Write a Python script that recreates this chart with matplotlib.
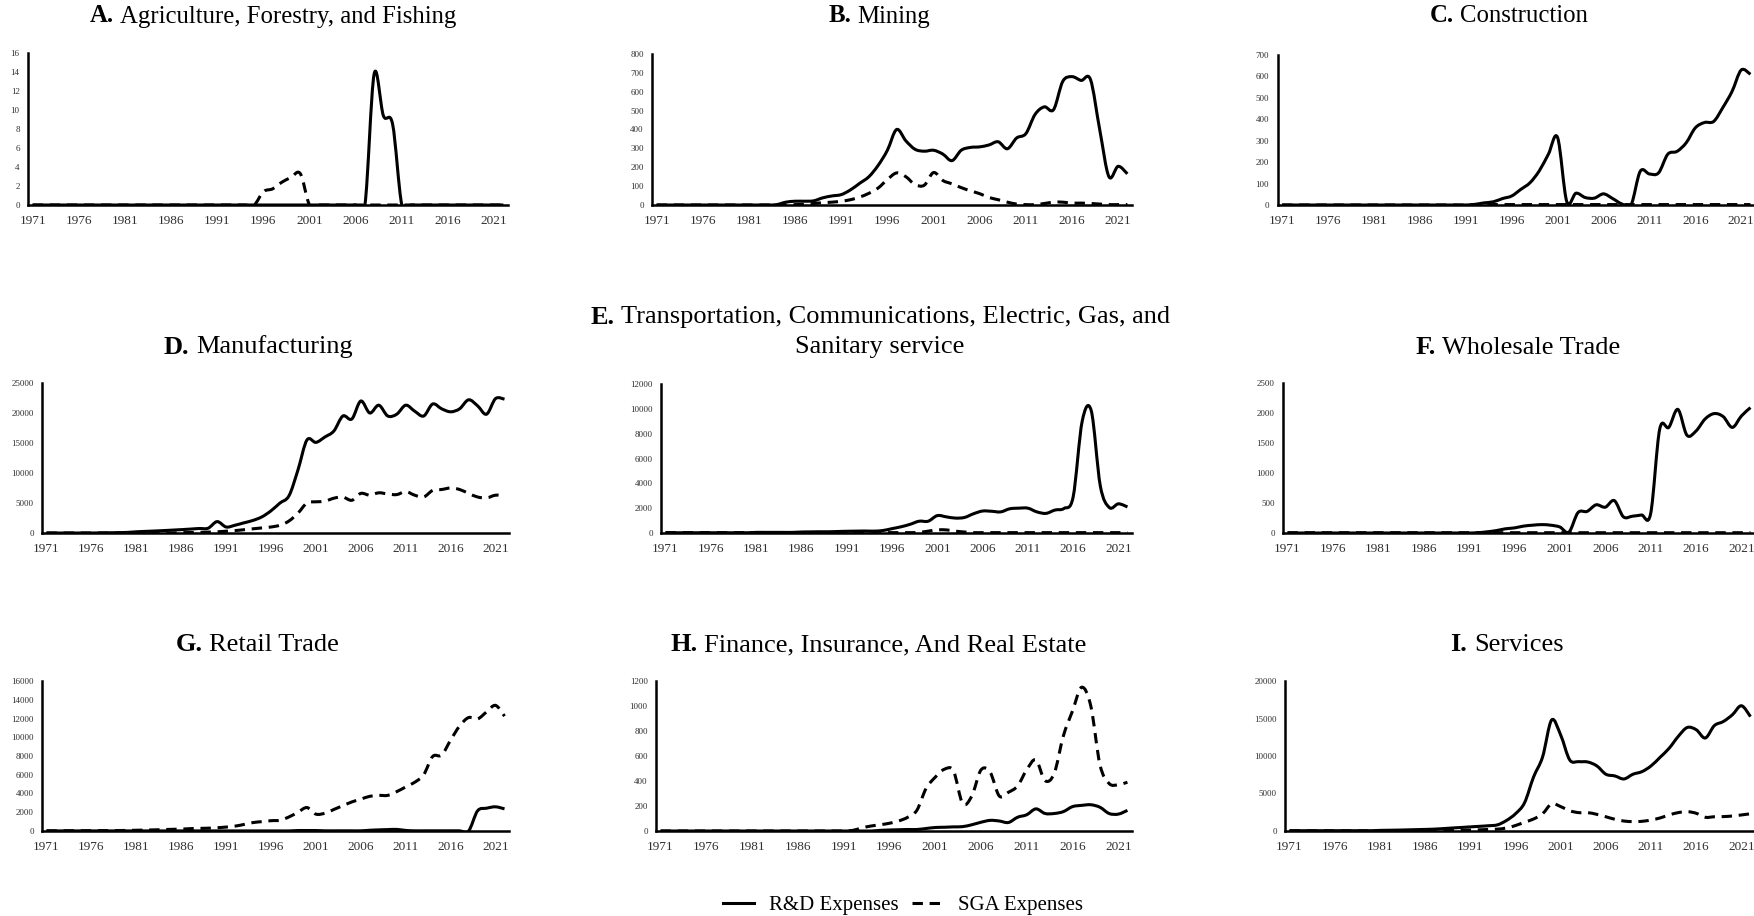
import numpy as np
import matplotlib
matplotlib.use("Agg")
import matplotlib.pyplot as plt
from matplotlib.path import Path
from matplotlib.patches import PathPatch
from matplotlib.lines import Line2D

plt.rcParams['font.family'] = ['Liberation Serif', 'DejaVu Serif']

W, H = 1754, 916
years = np.arange(1971, 2023)
xtick_years = list(range(1971, 2022, 5))

# ---- data (1971 .. 2022) ----
agri_rd = [0]*37 + [13.8, 9.4, 8.5] + [0]*12
agri_sga = [0]*25 + [1.4, 1.7, 2.4, 2.9, 3.3] + [0]*22

mining_rd = [0]*13 + [2, 15, 20, 20, 22, 38, 48, 55, 80, 115, 150, 210, 290, 400,
                      340, 295, 285, 290, 270, 235, 290, 305, 308, 318, 335, 298, 355,
                      378, 480, 520, 505, 655, 680, 660, 665, 400, 150, 205, 165]
mining_sga = [0]*15 + [2, 4, 8, 12, 15, 20, 28, 42, 62, 90, 135, 170, 150, 108, 105,
                       172, 130, 112, 92, 75, 60, 40, 28, 15, 5, 2, 2, 8, 15, 15, 10,
                       10, 8, 5, 2, 2, 2]

constr_rd = [0]*21 + [3, 10, 15, 30, 42, 73, 104, 159, 237, 315, 16, 55, 35, 32, 52,
                      30, 5, 0, 157, 145, 150, 237, 250, 290, 360, 385, 390, 455, 530,
                      630, 610]
constr_sga = [0]*21 + [2]*31

manuf_rd = [0]*6 + [20, 40, 60, 100, 200, 270, 330, 400, 480, 560, 650, 750, 800,
                    1900, 1000, 1300, 1700, 2100, 2700, 3700, 5000, 6200, 10500, 15500,
                    15100, 16000, 17000, 19500, 19000, 22000, 20000, 21300, 19500,
                    19800, 21300, 20300, 19500, 21500, 20700, 20200, 20700, 22200,
                    21200, 19800, 22400, 22300]
manuf_sga = [0]*15 + [50, 80, 100, 150, 200, 300, 400, 550, 700, 850, 1000, 1300,
                      2000, 3300, 5000, 5200, 5300, 5800, 6000, 5450, 6600, 6300, 6700,
                      6500, 6400, 6900, 6300, 6000, 7100, 7250, 7500, 7250, 6600, 6000,
                      5850, 6300, 6200]

trans_rd = [20]*10 + [50]*5 + [80, 90, 100, 100, 120, 140, 150, 160, 150, 200, 350,
                               500, 700, 950, 950, 1400, 1300, 1200, 1250, 1550, 1770,
                               1750, 1700, 1950, 2000, 2000, 1700, 1580, 1850, 1980,
                               2900, 9000, 9850, 3800, 2050, 2350, 2100]
trans_sga = [30]*28 + [50, 150, 250, 250, 150, 80] + [30]*18

whole_rd = [0]*21 + [5, 20, 40, 70, 85, 115, 130, 140, 130, 100, 15, 340, 360, 470,
                     430, 540, 270, 280, 300, 320, 1730, 1760, 2060, 1630, 1700, 1900,
                     1990, 1940, 1760, 1950, 2090]
whole_sga = [5]*52

retail_rd = [10]*28 + [50, 50, 50] + [20]*5 + [80, 120, 150, 170, 60] + [20]*6 + \
            [0, 2150, 2430, 2580, 2360]
retail_sga = [20, 20, 25, 30, 30, 35, 40, 45, 50, 60, 80, 100, 120, 150, 180, 200,
              250, 280, 300, 350, 420, 520, 700, 900, 1000, 1100, 1150, 1500, 2000,
              2500, 1800, 1900, 2300, 2700, 3100, 3400, 3700, 3800, 3800, 4200, 4700,
              5200, 6000, 7950, 8100, 9700, 11200, 12100, 11950, 12700, 13400, 12250]

fin_rd = [0]*24 + [5, 8, 10, 12, 12, 20, 28, 30, 33, 35, 50, 70, 85, 80, 68, 110,
                   130, 177, 140, 140, 155, 195, 205, 210, 190, 140, 135, 165]
fin_sga = [0]*21 + [5, 25, 40, 50, 62, 80, 110, 166, 340, 430, 494, 480, 220, 280,
                    488, 470, 280, 310, 360, 490, 569, 403, 460, 760, 960, 1150, 1000,
                    530, 380, 370, 390]

serv_rd = [40]*10 + [80, 100, 120, 150, 180, 210, 250, 320, 400, 470, 550, 620, 700,
                     820, 1400, 2300, 3760, 7200, 9880, 14800, 12800, 9480, 9250, 9200,
                     8680, 7570, 7340, 6940, 7570, 7920, 8680, 9830, 11030, 12600, 13800,
                     13500, 12400, 14050, 14600, 15500, 16700, 15250]
serv_sga = [20]*16 + [40, 60, 80, 100, 120, 160, 200, 250, 400, 730, 1170, 1600,
                      2300, 3630, 3250, 2700, 2450, 2450, 2220, 1900, 1560, 1330, 1250,
                      1290, 1470, 1740, 2140, 2450, 2580, 2360, 1830, 1900, 1920, 2000,
                      2140, 2300]

letters = ["A.", "B.", "C.", "D.", "E.", "F.", "G.", "H.", "I."]
titles = ["Agriculture, Forestry, and Fishing", "Mining", "Construction",
          "Manufacturing",
          "Transportation, Communications, Electric, Gas, and\nSanitary service",
          "Wholesale Trade", "Retail Trade", "Finance, Insurance, And Real Estate",
          "Services"]
rd_series = [agri_rd, mining_rd, constr_rd, manuf_rd, trans_rd, whole_rd,
             retail_rd, fin_rd, serv_rd]
sga_series = [agri_sga, mining_sga, constr_sga, manuf_sga, trans_sga, whole_sga,
              retail_sga, fin_sga, serv_sga]
y_max = [16, 800, 700, 25000, 12000, 2500, 16000, 1200, 20000]
y_step = [2, 100, 100, 5000, 2000, 500, 2000, 200, 5000]

# plot-area boxes in pixels: left, top, right, bottom
boxes = [(28, 53, 508, 205), (652, 54, 1132, 205), (1277.5, 55, 1755, 205),
         (42, 383, 509, 533), (661, 384, 1132, 533), (1283, 383, 1755, 533),
         (42, 681, 509, 831), (656, 681, 1132, 831), (1285, 681, 1755, 831)]
# title anchor: centre x, baseline y (pixels), font size
title_pos = [(273, 22.5, 17.8), (879, 22.5, 17.8), (1509, 22.5, 17.8),
             (258, 353.5, 19), (880, 323.5, 19), (1518, 353.5, 19),
             (257, 651, 19), (878.5, 651, 19), (1507, 651, 19)]

fig = plt.figure(figsize=(W / 100, H / 100), dpi=100)

LW = 2.2
DASH = (0, (3.4, 2.2))


def smooth_path(x, y):
    pts = np.column_stack([x, y]).astype(float)
    n = len(pts)
    verts = [pts[0]]
    codes = [Path.MOVETO]
    for i in range(n - 1):
        p0 = pts[i - 1] if i > 0 else pts[i]
        p1, p2 = pts[i], pts[i + 1]
        p3 = pts[i + 2] if i + 2 < n else pts[i + 1]
        verts += [p1 + (p2 - p0) / 6.0, p2 - (p3 - p1) / 6.0, p2]
        codes += [Path.CURVE4] * 3
    return Path(verts, codes)


def fx(x):
    return x / W


def fy(y):
    return 1 - y / H


renderer = fig.canvas.get_renderer()


def draw_title(xc, base, size, bold, rest):
    lines = rest.split("\n")
    for k, line in enumerate(lines):
        yb = base + k * 30
        if k == 0:
            t1 = fig.text(0, fy(yb), bold, fontsize=size, fontweight='bold',
                          ha='left', va='baseline')
            t2 = fig.text(0, fy(yb), line, fontsize=size, ha='left', va='baseline')
            w1 = t1.get_window_extent(renderer).width
            w2 = t2.get_window_extent(renderer).width
            gap = 0.25 * size * 100 / 72
            left = xc - (w1 + gap + w2) / 2
            t1.set_x(fx(left))
            t2.set_x(fx(left + w1 + gap))
        else:
            fig.text(fx(xc), fy(yb), line, fontsize=size, ha='center', va='baseline')


for k in range(9):
    l, t, r, b = boxes[k]
    ax = fig.add_axes([fx(l), fy(b), (r - l) / W, (b - t) / H])
    ax.patch.set_visible(False)
    # category axis: each year sits in the middle of its own band
    ax.set_xlim(years[0] - 0.5, years[-1] + 0.5)
    ax.set_ylim(0, y_max[k])
    ax.add_patch(PathPatch(smooth_path(years, sga_series[k]), fill=False,
                           edgecolor='black', lw=LW, linestyle=DASH,
                           capstyle='butt', joinstyle='round'))
    ax.add_patch(PathPatch(smooth_path(years, rd_series[k]), fill=False,
                           edgecolor='black', lw=LW, capstyle='butt',
                           joinstyle='round'))
    for s in ['top', 'right']:
        ax.spines[s].set_visible(False)
    for s in ['left', 'bottom']:
        ax.spines[s].set_linewidth(1.8)
        ax.spines[s].set_color('black')
    ax.set_xticks(xtick_years)
    ax.set_xticklabels([str(v) for v in xtick_years])
    ax.set_yticks(np.arange(0, y_max[k] + 1, y_step[k]))
    ax.tick_params(axis='both', length=0, colors='#303030')
    ax.tick_params(axis='x', labelsize=9.5, pad=7.5)
    ax.tick_params(axis='y', labelsize=6.5, pad=6)
    xc, base, size = title_pos[k]
    draw_title(xc, base, size, letters[k], titles[k])

handles = [Line2D([], [], color='black', lw=LW),
           Line2D([], [], color='black', lw=LW, linestyle=DASH)]
fig.legend(handles, ["R&D Expenses", "SGA Expenses"], loc='center',
           bbox_to_anchor=(fx(903), fy(905)), ncol=2, frameon=False,
           fontsize=15, handlelength=1.5, handletextpad=0.75, columnspacing=0.6)

fig.savefig("out.png", dpi=100)
